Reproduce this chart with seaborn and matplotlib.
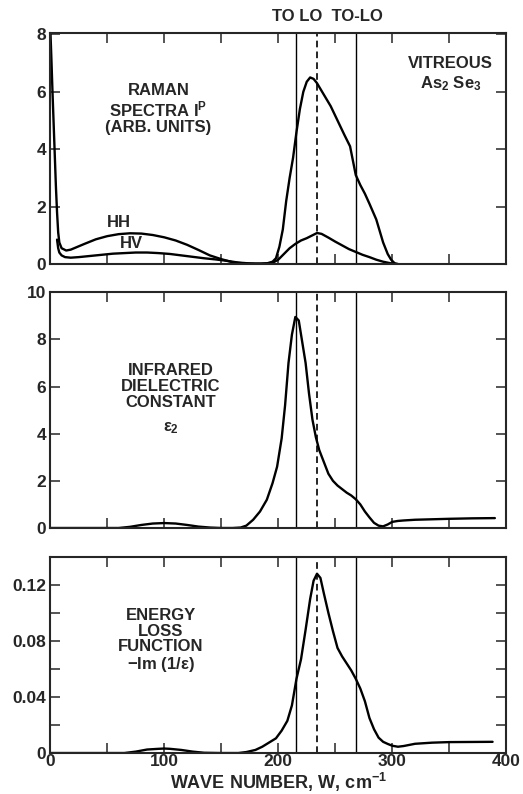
import numpy as np
import pandas as pd
import matplotlib
matplotlib.use("Agg")
import matplotlib.pyplot as plt
import seaborn as sns
from matplotlib.ticker import MultipleLocator

# --- data ---
# Raman HH
hh_w = [0, 1, 2, 3, 4, 5, 6, 7, 8, 10, 14, 18, 24, 30, 40, 50, 60, 70, 80, 90, 100,
        110, 120, 130, 140, 150, 160, 170, 180, 190, 195, 198, 201, 204, 207, 210,
        213, 216, 219, 222, 225, 228, 231, 234, 240, 246, 252, 258, 263, 268, 272,
        276, 280, 286, 292, 296, 299, 302, 305]
hh_y = [8.3, 7.2, 6.0, 4.9, 3.8, 2.7, 1.8, 1.1, 0.75, 0.55, 0.47, 0.5, 0.6, 0.7,
        0.86, 0.97, 1.04, 1.07, 1.06, 1.01, 0.93, 0.82, 0.67, 0.49, 0.3, 0.17, 0.06,
        0.02, 0.01, 0.02, 0.08, 0.2, 0.6, 1.2, 2.2, 3.0, 3.7, 4.6, 5.4, 6.0, 6.35,
        6.5, 6.45, 6.3, 5.9, 5.5, 5.0, 4.5, 4.1, 3.1, 2.75, 2.45, 2.1, 1.55, 0.75,
        0.35, 0.15, 0.03, 0.0]
# Raman HV
hv_w = [6, 7, 8, 10, 13, 18, 25, 35, 45, 55, 65, 75, 85, 95, 105, 115, 125, 135,
        145, 155, 165, 175, 185, 195, 200, 205, 210, 215, 220, 225, 230, 234, 238,
        244, 250, 256, 262, 268, 274, 280, 286, 292, 298, 302]
hv_y = [0.85, 0.55, 0.4, 0.3, 0.24, 0.22, 0.24, 0.28, 0.32, 0.36, 0.38, 0.4, 0.4,
        0.38, 0.35, 0.3, 0.25, 0.2, 0.16, 0.11, 0.05, 0.02, 0.01, 0.04, 0.15, 0.35,
        0.55, 0.7, 0.82, 0.9, 1.0, 1.08, 1.05, 0.92, 0.78, 0.65, 0.52, 0.42, 0.32,
        0.24, 0.15, 0.08, 0.03, 0.0]
# infrared eps2
eps_w = [0, 60, 70, 80, 90, 100, 110, 120, 130, 140, 150, 160, 167, 172, 178, 184,
         190, 195, 199, 203, 206, 209, 212, 215, 218, 221, 224, 227, 230, 233, 236,
         240, 244, 248, 252, 256, 260, 264, 268, 272, 276, 280, 284, 288, 292, 296,
         300, 305, 310, 320, 335, 350, 370, 390]
eps_y = [0, 0, 0.05, 0.13, 0.19, 0.21, 0.19, 0.13, 0.06, 0.02, 0, 0, 0.02, 0.1,
         0.35, 0.7, 1.2, 1.9, 2.6, 3.8, 5.2, 7.0, 8.2, 8.95, 8.8, 7.9, 7.0, 5.7,
         4.6, 3.85, 3.3, 2.8, 2.3, 2.0, 1.8, 1.65, 1.5, 1.38, 1.22, 1.0, 0.7, 0.45,
         0.22, 0.1, 0.07, 0.15, 0.26, 0.3, 0.32, 0.35, 0.37, 0.39, 0.41, 0.42]
# energy loss -Im(1/eps)
loss_w = [0, 65, 75, 85, 95, 100, 105, 115, 125, 135, 150, 165, 172, 180, 186, 192,
          198, 203, 208, 212, 216, 220, 224, 228, 231, 234, 237, 240, 244, 248, 252,
          256, 260, 264, 268, 272, 276, 280, 284, 288, 292, 296, 300, 305, 310, 320,
          335, 350, 370, 388]
loss_y = [0, 0, 0.001, 0.0025, 0.003, 0.0032, 0.003, 0.0022, 0.001, 0.0002, 0, 0,
          0.0007, 0.0022, 0.0045, 0.0075, 0.0105, 0.016, 0.023, 0.034, 0.053, 0.067,
          0.088, 0.11, 0.123, 0.128, 0.125, 0.114, 0.1, 0.087, 0.075, 0.069, 0.064,
          0.059, 0.053, 0.046, 0.037, 0.025, 0.017, 0.011, 0.008, 0.0065, 0.0052,
          0.0045, 0.005, 0.0066, 0.0074, 0.0078, 0.0079, 0.008]

to_line = 216
lo_line = 234
tolo_line = 268

sns.set_style("ticks")
plt.rcParams['font.family'] = ['Liberation Sans', 'DejaVu Sans']
plt.rcParams['font.weight'] = 'bold'
plt.rcParams['mathtext.fontset'] = 'custom'
plt.rcParams['mathtext.rm'] = 'Liberation Sans:bold'
plt.rcParams['mathtext.bf'] = 'Liberation Sans:bold'
plt.rcParams['mathtext.it'] = 'Liberation Sans:bold'

fig = plt.figure(figsize=(5.23, 7.94), dpi=100)
L, W = 0.096, 0.872
ax1 = fig.add_axes([L, 0.6675, W, 0.291])
ax2 = fig.add_axes([L, 0.335, W, 0.297])
ax3 = fig.add_axes([L, 0.0516, W, 0.247])

lw = 1.7
sns.lineplot(x=hh_w, y=hh_y, ax=ax1, color='black', lw=lw, sort=False, estimator=None)
sns.lineplot(x=hv_w, y=hv_y, ax=ax1, color='black', lw=lw, sort=False, estimator=None)
sns.lineplot(x=eps_w, y=eps_y, ax=ax2, color='black', lw=lw, sort=False, estimator=None)
sns.lineplot(x=loss_w, y=loss_y, ax=ax3, color='black', lw=lw, sort=False, estimator=None)

for ax in (ax1, ax2, ax3):
    ax.axvline(to_line, color='black', lw=1.0)
    ax.axvline(lo_line, color='black', lw=1.2, ls=(0, (4, 2.5)))
    ax.axvline(tolo_line, color='black', lw=1.0)
    ax.set_xlim(0, 400)
    ax.xaxis.set_major_locator(MultipleLocator(100))
    ax.xaxis.set_minor_locator(MultipleLocator(50))
    ax.tick_params(which='both', direction='in', top=True, right=True,
                   length=7, width=1.1, labelsize=12.5, pad=3)
    for s in ax.spines.values():
        s.set_linewidth(1.5)
        s.set_visible(True)
    ax.set_xlabel('')
    ax.set_ylabel('')

ax1.set_ylim(0, 8.05)
ax1.set_yticks([0, 2, 4, 6, 8])
ax1.tick_params(labelbottom=False)
ax2.set_ylim(0, 10)
ax2.set_yticks([0, 2, 4, 6, 8, 10])
ax2.tick_params(labelbottom=False)
ax3.set_ylim(0, 0.14)
ax3.yaxis.set_minor_locator(MultipleLocator(0.02))
ax3.set_yticks([0, 0.04, 0.08, 0.12])
ax3.set_yticklabels(['0', '0.04', '0.08', '0.12'])
ax3.set_xticks([0, 100, 200, 300, 400])
ax3.set_xticklabels(['0', '100', '200', '300', '400'])
ax3.tick_params(axis='x', pad=1)
ax3.set_xlabel('WAVE NUMBER, W, cm$^{-1}$', fontsize=13, fontweight='bold', va='center')
ax3.xaxis.set_label_coords(0.5, -0.152)

tk = dict(ha='center', va='center', fontsize=12, fontweight='bold', linespacing=1.05)
ax1.text(95, 5.4, 'RAMAN\nSPECTRA I$^{\\mathrm{P}}$\n(ARB. UNITS)', **tk)
ax1.text(60, 1.45, 'HH', **tk)
ax1.text(71, 0.72, 'HV', **tk)
ax1.text(351, 7.0, 'VITREOUS', **tk)
ax1.text(351, 6.3, 'As$_{\\mathrm{2}}$ Se$_{\\mathrm{3}}$', **tk)
ax2.text(106, 6.0, 'INFRARED\nDIELECTRIC\nCONSTANT', **tk)
ax2.text(106, 4.3, '$\\epsilon_{2}$', ha='center', va='center', fontsize=12,
         family=['DejaVu Sans'])
ax3.text(97, 0.08, 'ENERGY\nLOSS\nFUNCTION\n\u2212Im (1/$\\epsilon$)', **tk)
fig.text(0.627, 0.979, 'TO LO  TO-LO', ha='center', va='center', fontsize=12,
         fontweight='bold')

fig.savefig('out.png', dpi=100)
